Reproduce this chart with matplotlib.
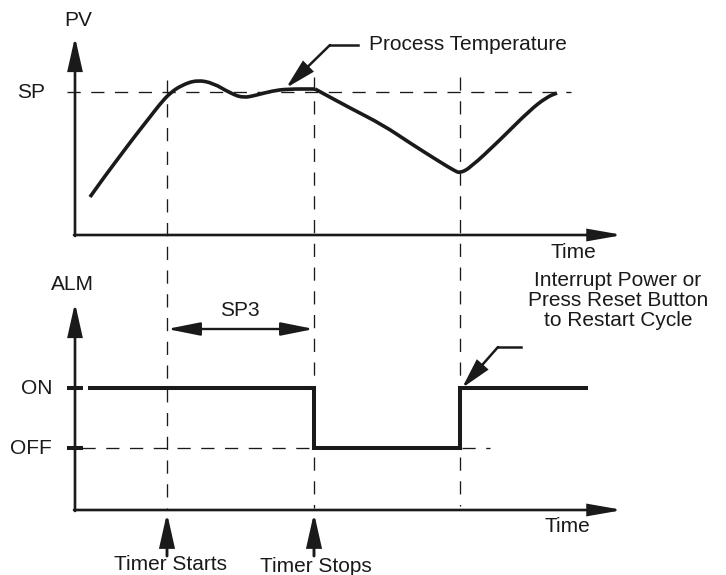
import matplotlib
matplotlib.use("Agg")
import matplotlib.pyplot as plt
from matplotlib.path import Path
from matplotlib.patches import PathPatch

plt.rcParams['font.family'] = ['Liberation Sans', 'DejaVu Sans']

# ---- diagram data (diagram units: x = time position, y = vertical position, downwards) ----
# process value, rising part (up to the point where the timer stops)
pv_time_a = [90, 105, 120, 135, 150, 160, 170, 182, 197, 213, 230, 243, 257, 272, 287, 315]
pv_value_a = [197, 176, 156, 136, 117, 104, 93, 85, 80, 83, 93, 98, 95, 91, 89, 89]
# process value, falling and recovering part
pv_time_b = [315, 350, 383, 410, 440, 455, 460, 470, 500, 530, 547, 557]
pv_value_b = [89, 108, 125, 143, 162, 171, 173, 168, 140, 110, 97, 93]

alm_time = [88, 314, 314, 460, 460, 588]
alm_state = [388, 388, 448, 448, 388, 388]

sp_level = 92
on_level = 388
off_level = 448
event_times = [167, 314, 460]   # timer start, timer stop, reset

fig = plt.figure(figsize=(7.26, 5.75), dpi=100)
ax = fig.add_axes([0, 0, 1, 1])
ax.set_xlim(0, 726)
ax.set_ylim(575, 0)
ax.axis('off')

K = '#1a1a1a'
FS = 15
dash = (0, (10, 8))

def arrow(tail, tip, lw=1.8, hl=1.5, hw=0.45, ms=10):
    ax.annotate('', xy=tip, xytext=tail,
                arrowprops=dict(arrowstyle=f'-|>,head_length={hl},head_width={hw}',
                                mutation_scale=ms, lw=lw, color=K,
                                shrinkA=0, shrinkB=0, joinstyle='miter'))

def smooth_path(xs, ys):
    pts = list(zip(xs, ys))
    verts = [pts[0]]
    codes = [Path.MOVETO]
    mid = lambda a, b: ((a[0] + b[0]) / 2, (a[1] + b[1]) / 2)
    verts.append(mid(pts[0], pts[1])); codes.append(Path.LINETO)
    for i in range(1, len(pts) - 1):
        verts += [pts[i], mid(pts[i], pts[i + 1])]
        codes += [Path.CURVE3, Path.CURVE3]
    verts.append(pts[-1]); codes.append(Path.LINETO)
    return Path(verts, codes)

# ---- axes of the top panel ----
arrow((75, 236), (75, 37), lw=1.9, hl=2.0, hw=0.45)
arrow((74, 235), (623, 235), lw=1.9, hl=2.0, hw=0.35)
# ---- axes of the bottom panel ----
arrow((75, 511), (75, 303), lw=1.9, hl=2.0, hw=0.45)
arrow((74, 510), (623, 510), lw=1.9, hl=2.0, hw=0.35)

# dashed guide lines
ax.plot([67, 571], [sp_level, sp_level], color=K, lw=0.95, linestyle=dash)
ax.plot([82, 490], [off_level, off_level], color=K, lw=0.95, linestyle=dash)
ax.plot([event_times[0]] * 2, [80, 508], color=K, lw=0.95, linestyle=dash)
ax.plot([event_times[1]] * 2, [77, 508], color=K, lw=0.95, linestyle=dash)
ax.plot([event_times[2]] * 2, [77, 506], color=K, lw=0.95, linestyle=dash)

# PV curve
for xs, ys in ((pv_time_a, pv_value_a), (pv_time_b, pv_value_b)):
    ax.add_patch(PathPatch(smooth_path(xs, ys), fill=False, edgecolor=K, lw=2.6,
                           capstyle='butt', joinstyle='round'))

# alarm output
ax.plot(alm_time, alm_state, color=K, lw=2.9, solid_joinstyle='miter', solid_capstyle='butt')

# ON/OFF tick marks
for lv in (on_level, off_level):
    ax.plot([67, 83], [lv, lv], color=K, lw=2.9, solid_capstyle='butt')

# SP3 double arrow
ax.annotate('', xy=(event_times[0], 329), xytext=(event_times[1], 329),
            arrowprops=dict(arrowstyle='<|-|>,head_length=2.0,head_width=0.4',
                            mutation_scale=10, lw=1.7, color=K, shrinkA=0, shrinkB=0))
ax.text(240, 310, 'SP3', ha='center', va='center', fontsize=FS, color=K)

# timer arrows
for t in event_times[:2]:
    arrow((t, 556), (t, 513), lw=2.1, hl=2.0, hw=0.45)

# Process temperature leader
ax.plot([330, 358], [45, 45], color=K, lw=1.8)
arrow((330, 45), (286, 88), lw=1.8, hl=1.8, hw=0.45)
ax.text(369, 45, 'Process Temperature', ha='left', va='center', fontsize=FS, color=K)

# Reset leader
ax.plot([498, 521], [347, 347], color=K, lw=1.8)
arrow((498, 347), (462, 388), lw=1.8, hl=1.8, hw=0.45)
for txt, yy in [('Interrupt Power or', 281), ('Press Reset Button', 301), ('to Restart Cycle', 320)]:
    ax.text(618, yy, txt, ha='center', va='center', fontsize=FS, color=K)

# labels
ax.text(78, 21, 'PV', ha='center', va='center', fontsize=FS, color=K)
ax.text(45, 92, 'SP', ha='right', va='center', fontsize=FS, color=K)
ax.text(72, 285, 'ALM', ha='center', va='center', fontsize=FS, color=K)
ax.text(52, 388, 'ON', ha='right', va='center', fontsize=FS, color=K)
ax.text(52, 448, 'OFF', ha='right', va='center', fontsize=FS, color=K)
ax.text(573, 253, 'Time', ha='center', va='center', fontsize=FS, color=K)
ax.text(567, 527, 'Time', ha='center', va='center', fontsize=FS, color=K)
ax.text(170, 565, 'Timer Starts', ha='center', va='center', fontsize=FS, color=K)
ax.text(316, 567, 'Timer Stops', ha='center', va='center', fontsize=FS, color=K)

fig.savefig('out.png', dpi=100, facecolor='white')
